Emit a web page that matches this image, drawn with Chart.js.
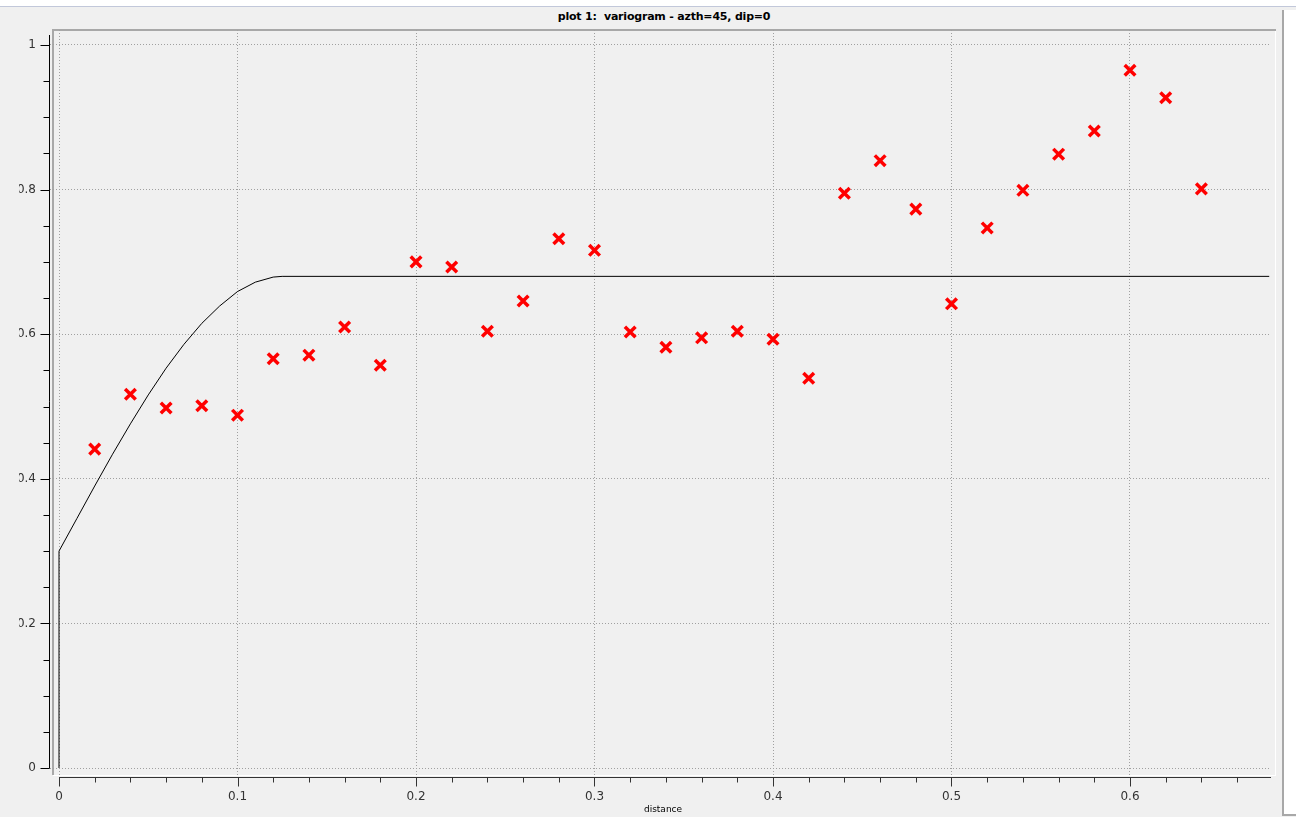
<!DOCTYPE html>
<html>
<head>
<meta charset="utf-8">
<script src="https://cdn.jsdelivr.net/npm/chart.js@4/dist/chart.umd.min.js"></script>
<style>
  html, body { margin: 0; padding: 0; }
  body { width: 1296px; height: 817px; background: #f0f0f0; position: relative; overflow: hidden; font-family: "DejaVu Sans", sans-serif; }
  #topstrip { position: absolute; left: 0; top: 0; width: 1296px; height: 6px; background: #ffffff; border-bottom: 1px solid #c2c8da; }
  #frame { position: absolute; left: 1282px; top: 10px; width: 20px; height: 804px; background: #ffffff; border-left: 2px solid #a8a8a8; border-bottom: 2px solid #a8a8a8; }
  #title { position: absolute; left: 0; top: 10px; width: 1328px; text-align: center; font: bold 11px "DejaVu Sans", sans-serif; letter-spacing: -0.2px; color: #000; white-space: pre; }
  #wrap { position: absolute; left: 19px; top: 0; width: 1277px; height: 817px; }
</style>
</head>
<body>
<div id="topstrip"></div>
<div id="frame"></div>
<div id="title">plot 1:  variogram - azth=45, dip=0</div>
<div id="wrap"><canvas id="c" width="1277" height="817"></canvas></div>
<script>
// Experimental variogram points
const distances = [0.02, 0.04, 0.06, 0.08, 0.10, 0.12, 0.14, 0.16, 0.18, 0.20, 0.22, 0.24, 0.26, 0.28, 0.30, 0.32,
                   0.34, 0.36, 0.38, 0.40, 0.42, 0.44, 0.46, 0.48, 0.50, 0.52, 0.54, 0.56, 0.58, 0.60, 0.62, 0.64];
const gammaValues = [0.441, 0.517, 0.498, 0.501, 0.488, 0.566, 0.571, 0.610, 0.557, 0.700, 0.693, 0.604, 0.646, 0.732, 0.716, 0.603,
                     0.582, 0.595, 0.604, 0.593, 0.539, 0.795, 0.840, 0.773, 0.642, 0.747, 0.799, 0.849, 0.881, 0.965, 0.927, 0.801];
// Model curve
const modelDistances = [0, 0, 0.01, 0.02, 0.03, 0.04, 0.05, 0.06, 0.07, 0.08, 0.09, 0.10, 0.11, 0.12, 0.125, 0.678];
const modelValues    = [0, 0.30, 0.345, 0.390, 0.434, 0.476, 0.516, 0.553, 0.586, 0.615, 0.639, 0.659, 0.672, 0.679, 0.68, 0.68];
// Axis ticks
const xMajorTicks = [0, 0.1, 0.2, 0.3, 0.4, 0.5, 0.6];
const xMinorTicks = [0.02, 0.04, 0.06, 0.08, 0.12, 0.14, 0.16, 0.18, 0.22, 0.24, 0.26, 0.28, 0.32, 0.34, 0.36, 0.38,
                     0.42, 0.44, 0.46, 0.48, 0.52, 0.54, 0.56, 0.58, 0.62, 0.64, 0.66];
const yMajorTicks = [0, 0.2, 0.4, 0.6, 0.8, 1];
const yMinorTicks = [0.05, 0.1, 0.15, 0.25, 0.3, 0.35, 0.45, 0.5, 0.55, 0.65, 0.7, 0.75, 0.85, 0.9, 0.95];
const yTickLabels = ['0', '0.2', '0.4', '0.6', '0.8', '1'];
const xTickLabels = ['0', '0.1', '0.2', '0.3', '0.4', '0.5', '0.6'];
const xAxisTitle = 'distance';

const OFF = 19; // canvas left offset in page

const chrome = {
  id: 'chrome',
  beforeDraw(chart) {
    const ctx = chart.ctx;
    ctx.save();
    const L = 53 - OFF, T = 30, R = 1275 - OFF, B = 775;
    ctx.fillStyle = '#f0f0f0';
    ctx.fillRect(L, T, R - L, B - T);
    ctx.strokeStyle = '#ffffff';
    ctx.lineWidth = 1;
    ctx.beginPath();
    ctx.moveTo(R + 0.5, T); ctx.lineTo(R + 0.5, B + 1);
    ctx.moveTo(L, B + 0.5); ctx.lineTo(R + 1, B + 0.5);
    ctx.stroke();
    ctx.strokeStyle = '#a8a8a8';
    ctx.lineWidth = 2;
    ctx.beginPath();
    ctx.moveTo(L, B); ctx.lineTo(L, T); ctx.lineTo(R + 1, T);
    ctx.stroke();
    ctx.restore();
  },
  afterDraw(chart) {
    const ctx = chart.ctx;
    const xs = chart.scales.x, ys = chart.scales.y;
    ctx.save();
    ctx.strokeStyle = '#000000';
    ctx.lineWidth = 1;
    const ax = 49.5 - OFF;
    ctx.beginPath();
    ctx.moveTo(ax, 35); ctx.lineTo(ax, Math.round(ys.getPixelForValue(0)) + 0.5);
    yMajorTicks.forEach(v => { const p = Math.round(ys.getPixelForValue(v)) + 0.5; ctx.moveTo(ax, p); ctx.lineTo(ax - 9, p); });
    yMinorTicks.forEach(v => { const p = Math.round(ys.getPixelForValue(v)) + 0.5; ctx.moveTo(ax, p); ctx.lineTo(ax - 6, p); });
    ctx.stroke();
    ctx.strokeStyle = '#333333';
    const ay = 777.5;
    ctx.beginPath();
    ctx.moveTo(xs.getPixelForValue(0), ay); ctx.lineTo(1271 - OFF, ay);
    xMajorTicks.forEach(v => { const p = Math.round(xs.getPixelForValue(v)) + 0.5; ctx.moveTo(p, ay); ctx.lineTo(p, ay + 9); });
    xMinorTicks.forEach(v => { const p = Math.round(xs.getPixelForValue(v)) + 0.5; ctx.moveTo(p, ay); ctx.lineTo(p, ay + 5); });
    ctx.stroke();
    ctx.fillStyle = '#000000';
    ctx.font = '9px "DejaVu Sans", sans-serif';
    ctx.textAlign = 'center';
    ctx.textBaseline = 'middle';
    ctx.fillText(xAxisTitle, 663 - OFF, 810);
    ctx.restore();
  }
};

new Chart(document.getElementById('c'), {
  type: 'scatter',
  data: {
    datasets: [
      {
        label: 'model',
        data: modelDistances.map((x, i) => ({ x: x, y: modelValues[i] })),
        showLine: true,
        borderColor: '#000000',
        borderWidth: 1,
        pointRadius: 0,
        tension: 0,
        order: 2
      },
      {
        label: 'experimental',
        data: distances.map((x, i) => ({ x: x, y: gammaValues[i] })),
        showLine: false,
        pointStyle: 'crossRot',
        pointRadius: 7.5,
        pointBorderWidth: 3.5,
        borderColor: '#ff0000',
        backgroundColor: '#ff0000',
        order: 1
      }
    ]
  },
  options: {
    responsive: false,
    animation: false,
    events: [],
    layout: { padding: { top: 30, right: 1277 - (1270 - OFF), left: 0, bottom: 0 } },
    plugins: { legend: { display: false }, tooltip: { enabled: false }, title: { display: false } },
    scales: {
      x: {
        type: 'linear',
        min: -9 / 1785,
        max: (1270 - 59) / 1785,
        afterFit(s) { s.height = 817 - 778; },
        afterBuildTicks(s) { s.ticks = xMajorTicks.map(v => ({ value: v })); },
        border: { display: false, dash: [1, 2] },
        grid: { drawTicks: false, color: '#a0a0a0', lineWidth: 1 },
        ticks: {
          autoSkip: false,
          maxRotation: 0,
          padding: 12,
          color: '#333333',
          font: { family: 'DejaVu Sans', size: 12 },
          callback: (v, i) => xTickLabels[i]
        }
      },
      y: {
        type: 'linear',
        min: -10 / 723,
        max: 1 + 15 / 723,
        afterFit(s) { s.width = 50 - OFF; },
        afterBuildTicks(s) { s.ticks = yMajorTicks.map(v => ({ value: v })); },
        border: { display: false, dash: [1, 2] },
        grid: { drawTicks: false, color: '#a0a0a0', lineWidth: 1 },
        ticks: {
          autoSkip: false,
          padding: 14,
          color: '#333333',
          font: { family: 'DejaVu Sans', size: 12 },
          callback: (v, i) => yTickLabels[i]
        }
      }
    }
  },
  plugins: [chrome]
});
</script>
</body>
</html>
